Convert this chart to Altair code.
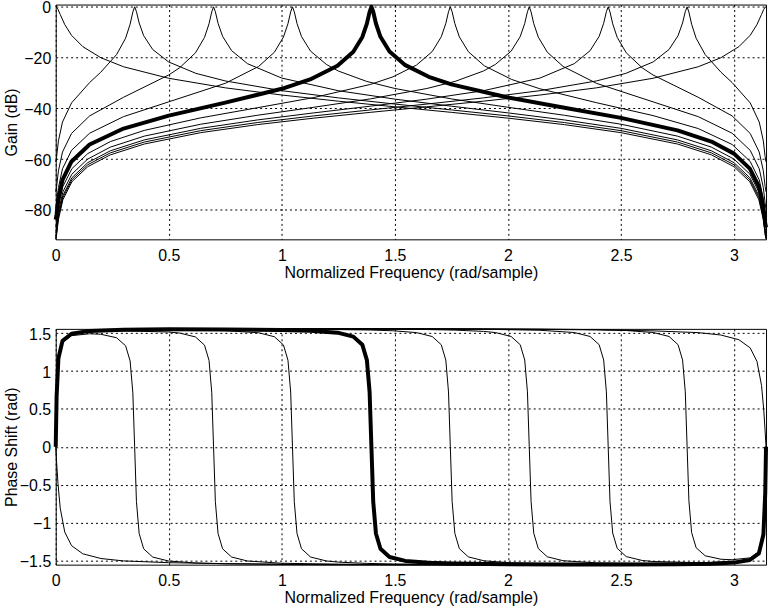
import altair as alt
import pandas as pd

# ---- data (frequency in rad/sample, gain in dB, phase in rad) ----
W0 = [0, 0.004, 0.01, 0.02, 0.04, 0.07, 0.12, 0.2, 0.3, 0.5, 0.75, 1.0, 1.25, 1.5, 1.75, 2.0, 2.25, 2.5, 2.75, 2.9, 3.0, 3.07, 3.11, 3.13, 3.138, 3.1416]
G0 = [0, -0.17, -0.97, -3.01, -6.99, -11.22, -15.69, -20.07, -23.61, -28.15, -31.91, -34.75, -37.17, -39.39, -41.57, -43.85, -46.41, -49.57, -54.05, -58.32, -62.99, -68.92, -76.03, -84.0, -89.9, -91.5]
P0 = [0, -0.2075, -0.4842, -0.811, -1.1272, -1.3058, -1.4137, -1.4761, -1.5076, -1.5309, -1.5434, -1.5495, -1.553, -1.5551, -1.5563, -1.5569, -1.5568, -1.5554, -1.5511, -1.5435, -1.5292, -1.4949, -1.4077, -1.1577, -0.6177, 0]

W1 = [0, 0.004, 0.012, 0.03, 0.07, 0.15, 0.1991, 0.2691, 0.3091, 0.3291, 0.3411, 0.3491, 0.3571, 0.3691, 0.3891, 0.4291, 0.4991, 0.62, 0.75, 1.0, 1.25, 1.5, 1.75, 2.0, 2.25, 2.5, 2.75, 2.9, 3.0, 3.07, 3.11, 3.13, 3.138, 3.1416]
G1 = [-61.13, -58.99, -52.82, -45.38, -37.84, -29.83, -25.77, -18.82, -12.36, -6.83, -2.06, 0, -1.87, -6.36, -11.37, -16.82, -21.7, -26.21, -29.19, -33.03, -35.87, -38.3, -40.61, -42.97, -45.59, -48.78, -53.28, -57.54, -62.22, -68.13, -75.15, -83.24, -89.54, -91.27]
P1 = [0, 0.6491, 1.1493, 1.3774, 1.4673, 1.4923, 1.4858, 1.4401, 1.3338, 1.1328, 0.7123, 0, -0.7252, -1.1462, -1.3482, -1.4569, -1.509, -1.5356, -1.5463, -1.5547, -1.5582, -1.56, -1.5608, -1.5609, -1.5605, -1.5588, -1.5542, -1.5465, -1.5321, -1.4978, -1.4105, -1.1606, -0.6206, 0]

W2 = [0, 0.004, 0.012, 0.03, 0.07, 0.15, 0.3, 0.5, 0.5481, 0.6181, 0.6581, 0.6781, 0.6901, 0.6981, 0.7061, 0.7181, 0.7381, 0.7781, 0.8481, 1.0, 1.25, 1.5, 1.75, 2.0, 2.25, 2.5, 2.75, 2.9, 3.0, 3.07, 3.11, 3.13, 3.138, 3.1416]
G2 = [-72.9, -70.76, -64.6, -57.21, -49.88, -42.97, -35.63, -26.84, -24.0, -18.12, -12.04, -6.69, -2.0, 0, -1.92, -6.49, -11.63, -17.27, -22.39, -28.07, -33.04, -36.36, -39.14, -41.78, -44.57, -47.86, -52.43, -56.72, -61.4, -67.32, -74.34, -82.43, -88.73, -90.46]
P2 = [0, 0.6622, 1.1629, 1.3921, 1.4852, 1.5211, 1.5315, 1.5154, 1.5018, 1.4506, 1.3424, 1.1406, 0.7198, 0, -0.7249, -1.1459, -1.3479, -1.4566, -1.5088, -1.5387, -1.5519, -1.5566, -1.5586, -1.5595, -1.5594, -1.558, -1.5536, -1.546, -1.5316, -1.4973, -1.4101, -1.1601, -0.6201, 0]

W3 = [0, 0.004, 0.012, 0.03, 0.07, 0.15, 0.3, 0.5, 0.75, 0.8972, 0.9672, 1.0072, 1.0272, 1.0392, 1.0472, 1.0552, 1.0672, 1.0872, 1.1272, 1.1972, 1.25, 1.375, 1.5, 1.75, 2.0, 2.25, 2.5, 2.75, 2.9, 3.0, 3.07, 3.11, 3.13, 3.138, 3.1416]
G3 = [-79.5, -77.36, -71.2, -63.81, -56.53, -49.79, -43.26, -37.43, -30.13, -23.5, -17.89, -11.93, -6.64, -1.98, 0, -1.94, -6.54, -11.73, -17.46, -22.7, -25.29, -29.37, -32.17, -36.27, -39.57, -42.73, -46.25, -50.94, -55.27, -59.97, -65.9, -72.92, -81.01, -87.31, -89.04]
P3 = [0, 0.6666, 1.1673, 1.3968, 1.4903, 1.5275, 1.5421, 1.5444, 1.5338, 1.5053, 1.4535, 1.345, 1.1431, 0.7222, 0, -0.7246, -1.1456, -1.3476, -1.4563, -1.5083, -1.5238, -1.5405, -1.5479, -1.5544, -1.557, -1.5577, -1.5568, -1.5527, -1.5452, -1.5309, -1.4967, -1.4094, -1.1595, -0.6195, 0]

W4 = [0, 0.004, 0.012, 0.03, 0.07, 0.15, 0.3, 0.5, 0.75, 1.0, 1.125, 1.2463, 1.3163, 1.3563, 1.3763, 1.3883, 1.3963, 1.4043, 1.4163, 1.4363, 1.4763, 1.5463, 1.65, 1.75, 2.0, 2.25, 2.5, 2.75, 2.9, 3.0, 3.07, 3.11, 3.13, 3.138, 3.1416]
G4 = [-83.86, -81.72, -75.56, -68.18, -60.91, -54.23, -47.95, -42.84, -37.76, -32.29, -28.61, -23.21, -17.7, -11.86, -6.61, -1.97, 0, -1.95, -6.57, -11.8, -17.61, -22.97, -27.58, -30.57, -35.74, -39.76, -43.74, -48.68, -53.09, -57.83, -63.76, -70.79, -78.88, -85.18, -86.91]
P4 = [0, 0.6687, 1.1695, 1.399, 1.4927, 1.5303, 1.5459, 1.5508, 1.5502, 1.5431, 1.5332, 1.5069, 1.4549, 1.3463, 1.1444, 0.7234, 0, -0.7241, -1.1451, -1.3471, -1.4558, -1.5079, -1.5319, -1.5418, -1.5515, -1.5547, -1.5548, -1.5514, -1.5441, -1.5299, -1.4957, -1.4085, -1.1585, -0.6185, 0]

W5 = [0, 0.0036, 0.0116, 0.0316, 0.0716, 0.1416, 0.2416, 0.3916, 0.6416, 0.8916, 1.1416, 1.3916, 1.4916, 1.5953, 1.6653, 1.7053, 1.7253, 1.7373, 1.7453, 1.7533, 1.7653, 1.7853, 1.8253, 1.8953, 2.0166, 2.1416, 2.3916, 2.6416, 2.8416, 2.9916, 3.0716, 3.1116, 3.1296, 3.1376, 3.1416]
G5 = [-86.91, -85.18, -78.88, -70.79, -63.76, -57.83, -53.09, -48.68, -43.74, -39.76, -35.74, -30.57, -27.58, -22.97, -17.61, -11.8, -6.57, -1.95, 0, -1.97, -6.61, -11.86, -17.7, -23.21, -28.61, -32.29, -37.76, -42.84, -47.95, -54.23, -60.91, -68.18, -75.56, -81.72, -83.86]
P5 = [0, 0.6185, 1.1585, 1.4085, 1.4957, 1.5299, 1.5441, 1.5514, 1.5548, 1.5547, 1.5515, 1.5418, 1.5319, 1.5079, 1.4558, 1.3471, 1.1451, 0.7241, 0, -0.7234, -1.1444, -1.3463, -1.4549, -1.5069, -1.5332, -1.5431, -1.5502, -1.5508, -1.5459, -1.5303, -1.4927, -1.399, -1.1695, -0.6687, 0]

W6 = [0, 0.0036, 0.0116, 0.0316, 0.0716, 0.1416, 0.2416, 0.3916, 0.6416, 0.8916, 1.1416, 1.3916, 1.6416, 1.7666, 1.8916, 1.9444, 2.0144, 2.0544, 2.0744, 2.0864, 2.0944, 2.1024, 2.1144, 2.1344, 2.1744, 2.2444, 2.3916, 2.6416, 2.8416, 2.9916, 3.0716, 3.1116, 3.1296, 3.1376, 3.1416]
G6 = [-89.04, -87.31, -81.01, -72.92, -65.9, -59.97, -55.27, -50.94, -46.25, -42.73, -39.57, -36.27, -32.17, -29.37, -25.29, -22.7, -17.46, -11.73, -6.54, -1.94, 0, -1.98, -6.64, -11.93, -17.89, -23.5, -30.13, -37.43, -43.26, -49.79, -56.53, -63.81, -71.2, -77.36, -79.5]
P6 = [0, 0.6195, 1.1595, 1.4094, 1.4967, 1.5309, 1.5452, 1.5527, 1.5568, 1.5577, 1.557, 1.5544, 1.5479, 1.5405, 1.5238, 1.5083, 1.4563, 1.3476, 1.1456, 0.7246, 0, -0.7222, -1.1431, -1.345, -1.4535, -1.5053, -1.5338, -1.5444, -1.5421, -1.5275, -1.4903, -1.3968, -1.1673, -0.6666, 0]

W7 = [0, 0.0036, 0.0116, 0.0316, 0.0716, 0.1416, 0.2416, 0.3916, 0.6416, 0.8916, 1.1416, 1.3916, 1.6416, 1.8916, 2.1416, 2.2935, 2.3635, 2.4035, 2.4235, 2.4355, 2.4435, 2.4515, 2.4635, 2.4835, 2.5235, 2.5935, 2.6416, 2.8416, 2.9916, 3.0716, 3.1116, 3.1296, 3.1376, 3.1416]
G7 = [-90.46, -88.73, -82.43, -74.34, -67.32, -61.4, -56.72, -52.43, -47.86, -44.57, -41.78, -39.14, -36.36, -33.04, -28.07, -22.39, -17.27, -11.63, -6.49, -1.92, 0, -2.0, -6.69, -12.04, -18.12, -24.0, -26.84, -35.63, -42.97, -49.88, -57.21, -64.6, -70.76, -72.9]
P7 = [0, 0.6201, 1.1601, 1.4101, 1.4973, 1.5316, 1.546, 1.5536, 1.558, 1.5594, 1.5595, 1.5586, 1.5566, 1.5519, 1.5387, 1.5088, 1.4566, 1.3479, 1.1459, 0.7249, 0, -0.7198, -1.1406, -1.3424, -1.4506, -1.5018, -1.5154, -1.5315, -1.5211, -1.4852, -1.3921, -1.1629, -0.6622, 0]

W8 = [0, 0.0036, 0.0116, 0.0316, 0.0716, 0.1416, 0.2416, 0.3916, 0.6416, 0.8916, 1.1416, 1.3916, 1.6416, 1.8916, 2.1416, 2.3916, 2.5216, 2.6425, 2.7125, 2.7525, 2.7725, 2.7845, 2.7925, 2.8005, 2.8125, 2.8325, 2.8725, 2.9425, 2.9916, 3.0716, 3.1116, 3.1296, 3.1376, 3.1416]
G8 = [-91.27, -89.54, -83.24, -75.15, -68.13, -62.22, -57.54, -53.28, -48.78, -45.59, -42.97, -40.61, -38.3, -35.87, -33.03, -29.19, -26.21, -21.7, -16.82, -11.37, -6.36, -1.87, 0, -2.06, -6.83, -12.36, -18.82, -25.77, -29.83, -37.84, -45.38, -52.82, -58.99, -61.13]
P8 = [0, 0.6206, 1.1606, 1.4105, 1.4978, 1.5321, 1.5465, 1.5542, 1.5588, 1.5605, 1.5609, 1.5608, 1.56, 1.5582, 1.5547, 1.5463, 1.5356, 1.509, 1.4569, 1.3482, 1.1462, 0.7252, 0, -0.7123, -1.1328, -1.3338, -1.4401, -1.4858, -1.4923, -1.4673, -1.3774, -1.1493, -0.6491, 0]

W9 = [0, 0.0036, 0.0116, 0.0316, 0.0716, 0.1416, 0.2416, 0.3916, 0.6416, 0.8916, 1.1416, 1.3916, 1.6416, 1.8916, 2.1416, 2.3916, 2.6416, 2.8416, 2.9416, 3.0216, 3.0716, 3.1016, 3.1216, 3.1316, 3.1376, 3.1416]
G9 = [-91.5, -89.9, -84.0, -76.03, -68.92, -62.99, -58.32, -54.05, -49.57, -46.41, -43.85, -41.57, -39.39, -37.17, -34.75, -31.91, -28.15, -23.61, -20.07, -15.69, -11.22, -6.99, -3.01, -0.97, -0.17, 0]
P9 = [0, 0.6177, 1.1577, 1.4077, 1.4949, 1.5292, 1.5435, 1.5511, 1.5554, 1.5568, 1.5569, 1.5563, 1.5551, 1.553, 1.5495, 1.5434, 1.5309, 1.5076, 1.4761, 1.4137, 1.3058, 1.1272, 0.811, 0.4842, 0.2075, 0]

FREQS = [W0, W1, W2, W3, W4, W5, W6, W7, W8, W9]
GAINS = [G0, G1, G2, G3, G4, G5, G6, G7, G8, G9]
PHASES = [P0, P1, P2, P3, P4, P5, P6, P7, P8, P9]
BOLD = 4

X_TICKS = [0, 0.5, 1, 1.5, 2, 2.5, 3]
GAIN_TICKS = [-80, -60, -40, -20, 0]
PHASE_TICKS = [-1.5, -1, -0.5, 0, 0.5, 1, 1.5]
X_TITLE = "Normalized Frequency (rad/sample)"

rows = []
for k, (ws, gs, ps) in enumerate(zip(FREQS, GAINS, PHASES)):
    for i, (w, g, p) in enumerate(zip(ws, gs, ps)):
        rows.append({"k": k, "i": i, "w": w, "gain": g, "phase": p})
df = pd.DataFrame(rows)
thin = df[df.k != BOLD]
bold = df[df.k == BOLD]

W_PLOT = 714
H_TOP = 236
H_BOT = 237

x_scale = alt.Scale(domain=[0, 3.14159], nice=False, zero=False)
gain_scale = alt.Scale(domain=[-91.6, 0.9], nice=False, zero=False)
phase_scale = alt.Scale(domain=[-1.557, 1.557], nice=False, zero=False)

grid_kw = dict(grid=True, gridColor="black", gridDash=[2, 3], gridOpacity=1, gridWidth=1,
               ticks=False, tickSize=0, domain=False, labelFlush=False, labelOverlap=False)


def x_axis():
    return alt.Axis(values=X_TICKS, format="~g", title=X_TITLE, labelPadding=8,
                    titleY=38, titleBaseline="alphabetic", titleAlign="center", **grid_kw)


def y_axis(values, fmt, title, h):
    return alt.Axis(values=values, format=fmt, title=title, labelPadding=5, labelOffset=1,
                    titleX=-44, titleY=h / 2, titleAngle=270, titleAlign="center",
                    titleBaseline="middle", **grid_kw)


def panel(field, yscale, yvalues, fmt, ytitle, h):
    base_x = alt.X("w:Q", scale=x_scale, axis=x_axis())
    base_y = alt.Y(f"{field}:Q", scale=yscale, axis=y_axis(yvalues, fmt, ytitle, h))
    thin_l = alt.Chart(thin).mark_line(color="black", strokeWidth=1, strokeJoin="round").encode(
        x=base_x, y=base_y, detail="k:N", order="i:Q")
    bold_l = alt.Chart(bold).mark_line(color="black", strokeWidth=4, strokeJoin="round").encode(
        x=base_x, y=base_y, detail="k:N", order="i:Q")
    return alt.layer(thin_l, bold_l).properties(width=W_PLOT, height=h)


top = panel("gain", gain_scale, GAIN_TICKS, "d", "Gain (dB)", H_TOP)
bottom = panel("phase", phase_scale, PHASE_TICKS, "~g", "Phase Shift (rad)", H_BOT)

chart = alt.vconcat(top, bottom, spacing=44).properties(
    padding={"left": 3, "top": -3, "right": 2, "bottom": 0},
    background="white",
).configure(font="Liberation Sans").configure_axis(
    labelFontSize=16, titleFontSize=16, titleFontWeight="normal",
    labelColor="black", titleColor="black",
).configure_view(stroke="black", strokeWidth=1)

chart.save("out.html", embed_options={"renderer": "svg", "actions": False})
